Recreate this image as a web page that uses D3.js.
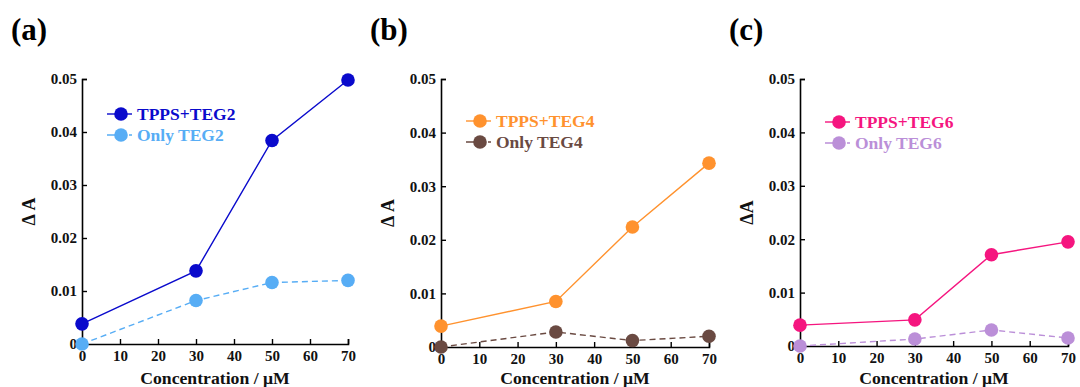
<!DOCTYPE html>
<html>
<head>
<meta charset="utf-8">
<script src="https://cdn.jsdelivr.net/npm/d3@7"></script>
<style>
  body { margin: 0; background: #fff; }
  svg { display: block; }
  text { font-family: "Liberation Serif", "Times New Roman", serif; font-weight: bold; }
</style>
</head>
<body>
<svg id="chart" width="1080" height="387"></svg>
<script>
// concentrations (uM)
const conc = [0, 30, 50, 70];
const xTicks = [0, 10, 20, 30, 40, 50, 60, 70];
const yTicks = [0, 0.01, 0.02, 0.03, 0.04, 0.05];
const yTickLabels = ["0", "0.01", "0.02", "0.03", "0.04", "0.05"];

// series values
const tppsTeg2 = [0.0038, 0.0138, 0.0384, 0.0498];
const onlyTeg2 = [0.0, 0.0082, 0.0116, 0.0120];
const tppsTeg4 = [0.0039, 0.0085, 0.0224, 0.0343];
const onlyTeg4 = [0.0, 0.0028, 0.0012, 0.0020];
const tppsTeg6 = [0.0039, 0.0049, 0.0171, 0.0195];
const onlyTeg6 = [0.0, 0.0013, 0.0030, 0.0015];

const panels = [
  { label: "(a)", left: 82, right: 348, bottom: 344, yLabel: "\u0394 A", legY: 114,
    series: [
      { name: "TPPS+TEG2", values: tppsTeg2, color: "#0a0acc", dash: null },
      { name: "Only TEG2", values: onlyTeg2, color: "#57adf5", dash: "6,4" }
    ] },
  { label: "(b)", left: 441, right: 709, bottom: 347, yLabel: "\u0394 A", legY: 121,
    series: [
      { name: "TPPS+TEG4", values: tppsTeg4, color: "#ff922e", dash: null },
      { name: "Only TEG4", values: onlyTeg4, color: "#6a4a42", dash: "6,4" }
    ] },
  { label: "(c)", left: 800, right: 1068, bottom: 346, yLabel: "\u0394A", legY: 122,
    series: [
      { name: "TPPS+TEG6", values: tppsTeg6, color: "#f5157f", dash: null },
      { name: "Only TEG6", values: onlyTeg6, color: "#bb8fd8", dash: "6,4" }
    ] }
];

const svg = d3.select("#chart");
const plotTop = 79;

panels.forEach(function(p) {
  const g = svg.append("g");
  const x = d3.scaleLinear().domain([0, 70]).range([p.left, p.right]);
  const y = d3.scaleLinear().domain([0, 0.05]).range([p.bottom, plotTop]);

  // panel label
  g.append("text")
    .attr("x", p.left - 71)
    .attr("y", 40)
    .attr("font-size", 31)
    .text(p.label);

  // x axis, ticks pointing inward
  const xAxis = d3.axisBottom(x).tickValues(xTicks).tickSize(-5).tickPadding(6).tickFormat(d3.format("d"));
  const xg = g.append("g").attr("transform", "translate(0," + p.bottom + ")").call(xAxis);
  xg.select(".domain").attr("stroke", "#000").attr("stroke-width", 1.6);
  xg.selectAll(".tick line").attr("stroke", "#000").attr("stroke-width", 1.4);
  xg.selectAll(".tick text").attr("font-size", 15).attr("fill", "#111");

  // y axis
  const yAxis = d3.axisLeft(y).tickValues(yTicks).tickSize(-5).tickPadding(5)
    .tickFormat(function(d, i) { return yTickLabels[i]; });
  const yg = g.append("g").attr("transform", "translate(" + p.left + ",0)").call(yAxis);
  yg.select(".domain").attr("stroke", "#000").attr("stroke-width", 1.6);
  yg.selectAll(".tick line").attr("stroke", "#000").attr("stroke-width", 1.4);
  yg.selectAll(".tick text").attr("font-size", 15).attr("fill", "#111");

  // axis titles
  g.append("text")
    .attr("x", (p.left + p.right) / 2)
    .attr("y", 384)
    .attr("text-anchor", "middle")
    .attr("font-size", 17.7)
    .attr("fill", "#111")
    .text("Concentration / \u03bcM");

  g.append("text")
    .attr("transform", "translate(" + (p.left - 47) + "," + ((plotTop + p.bottom) / 2) + ") rotate(-90)")
    .attr("text-anchor", "middle")
    .attr("font-size", 18)
    .attr("fill", "#111")
    .text(p.yLabel);

  const line = d3.line().x(function(d, i) { return x(conc[i]); }).y(function(d) { return y(d); });

  // draw the lighter "only" series first so the TPPS one sits on top
  p.series.slice().reverse().forEach(function(s) {
    g.append("path")
      .datum(s.values)
      .attr("d", line)
      .attr("fill", "none")
      .attr("stroke", s.color)
      .attr("stroke-width", 1.4)
      .attr("stroke-dasharray", s.dash);
    g.selectAll(null)
      .data(s.values)
      .enter()
      .append("circle")
      .attr("cx", function(d, i) { return x(conc[i]); })
      .attr("cy", function(d) { return y(d); })
      .attr("r", 6.8)
      .attr("fill", s.color);
  });

  // legend
  p.series.forEach(function(s, i) {
    const ly = p.legY + i * 21;
    const lx = p.left + 25;
    g.append("line")
      .attr("x1", lx).attr("x2", lx + 25)
      .attr("y1", ly).attr("y2", ly)
      .attr("stroke", s.color).attr("stroke-width", 1.4)
      .attr("stroke-dasharray", s.dash ? "8,3" : null);
    g.append("circle").attr("cx", lx + 14).attr("cy", ly).attr("r", 6.8).attr("fill", s.color);
    g.append("text")
      .attr("x", lx + 30)
      .attr("y", ly + 6)
      .attr("font-size", 17.5)
      .attr("fill", s.color)
      .text(s.name);
  });
});
</script>
</body>
</html>
